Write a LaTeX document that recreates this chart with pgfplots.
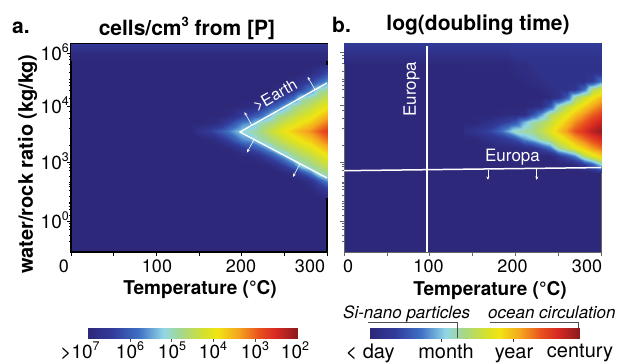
\documentclass[border=0pt]{standalone}
\usepackage{fontspec}
\setmainfont{TeX Gyre Heros}
\usepackage{pgfplots}
\usepackage{pgfplotstable}
\pgfplotsset{compat=1.18}
\usetikzlibrary{arrows.meta}
\definecolor{bgc}{RGB}{45,40,122}
\pgfplotsset{colormap={dmap}{rgb255(0pt)=(45,40,122) rgb255(6pt)=(50,60,155) rgb255(12pt)=(62,112,196) rgb255(18pt)=(145,215,230) rgb255(22pt)=(165,215,140) rgb255(28pt)=(215,225,40) rgb255(31pt)=(240,228,20) rgb255(36pt)=(245,165,30) rgb255(41pt)=(232,80,30) rgb255(45pt)=(215,40,35) rgb255(50pt)=(140,28,30)}}
\newcommand{\fs}[1]{\fontsize{#1}{#1}\selectfont}
\newcommand{\pw}[1]{10\raisebox{0.42em}{\fs{12.5}#1}}
\begin{document}
\pgfplotstableread[row sep=\\]{
T y z\\
140 0.26 0\\140 0.30 0\\140 0.34 0\\140 0.38 0\\140 0.42 0\\140 0.46 0\\140 0.50 0\\140 0.54 0\\140 0.58 0\\140 0.62 0\\140 0.66 0\\140 0.70 0\\140 0.74 0\\140 0.78 0\\140 0.82 0\\140 0.86 0\\140 0.90 0\\
150 0.26 0\\150 0.30 0\\150 0.34 0\\150 0.38 0\\150 0.42 0\\150 0.46 0\\150 0.50 0\\150 0.54 0\\150 0.58 0.3\\150 0.62 0\\150 0.66 0\\150 0.70 0\\150 0.74 0\\150 0.78 0\\150 0.82 0\\150 0.86 0\\150 0.90 0\\
160 0.26 0\\160 0.30 0\\160 0.34 0\\160 0.38 0\\160 0.42 0\\160 0.46 0\\160 0.50 0\\160 0.54 0.05\\160 0.58 0.5\\160 0.62 0.05\\160 0.66 0\\160 0.70 0\\160 0.74 0\\160 0.78 0\\160 0.82 0\\160 0.86 0\\160 0.90 0\\
170 0.26 0\\170 0.30 0\\170 0.34 0\\170 0.38 0\\170 0.42 0\\170 0.46 0\\170 0.50 0\\170 0.54 0.15\\170 0.58 0.8\\170 0.62 0.15\\170 0.66 0\\170 0.70 0\\170 0.74 0\\170 0.78 0\\170 0.82 0\\170 0.86 0\\170 0.90 0\\
180 0.26 0\\180 0.30 0\\180 0.34 0\\180 0.38 0\\180 0.42 0\\180 0.46 0\\180 0.50 0.05\\180 0.54 0.5\\180 0.58 1.1\\180 0.62 0.5\\180 0.66 0.05\\180 0.70 0\\180 0.74 0\\180 0.78 0\\180 0.82 0\\180 0.86 0\\180 0.90 0\\
190 0.26 0\\190 0.30 0\\190 0.34 0\\190 0.38 0\\190 0.42 0\\190 0.46 0\\190 0.50 0.2\\190 0.54 0.85\\190 0.58 1.45\\190 0.62 0.85\\190 0.66 0.2\\190 0.70 0\\190 0.74 0\\190 0.78 0\\190 0.82 0\\190 0.86 0\\190 0.90 0\\
200 0.26 0\\200 0.30 0\\200 0.34 0\\200 0.38 0\\200 0.42 0\\200 0.46 0.05\\200 0.50 0.55\\200 0.54 1.3\\200 0.58 1.8\\200 0.62 1.3\\200 0.66 0.55\\200 0.70 0.05\\200 0.74 0\\200 0.78 0\\200 0.82 0\\200 0.86 0\\200 0.90 0\\
210 0.26 0\\210 0.30 0\\210 0.34 0\\210 0.38 0\\210 0.42 0\\210 0.46 0.1\\210 0.50 0.75\\210 0.54 1.45\\210 0.58 2.0\\210 0.62 1.45\\210 0.66 0.75\\210 0.70 0.1\\210 0.74 0\\210 0.78 0\\210 0.82 0\\210 0.86 0\\210 0.90 0\\
220 0.26 0\\220 0.30 0\\220 0.34 0\\220 0.38 0\\220 0.42 0\\220 0.46 0.32\\220 0.50 1.04\\220 0.54 1.96\\220 0.58 2.2\\220 0.62 1.96\\220 0.66 1.04\\220 0.70 0.35\\220 0.74 0\\220 0.78 0\\220 0.82 0\\220 0.86 0\\220 0.90 0\\
230 0.26 0\\230 0.30 0\\230 0.34 0\\230 0.38 0\\230 0.42 0.05\\230 0.46 0.67\\230 0.50 1.45\\230 0.54 2.17\\230 0.58 2.5\\230 0.62 2.17\\230 0.66 1.45\\230 0.70 0.7\\230 0.74 0.1\\230 0.78 0\\230 0.82 0\\230 0.86 0\\230 0.90 0\\
240 0.26 0\\240 0.30 0\\240 0.34 0\\240 0.38 0\\240 0.42 0.3\\240 0.46 1.09\\240 0.50 2.04\\240 0.54 2.42\\240 0.58 2.8\\240 0.62 2.42\\240 0.66 2.04\\240 0.70 1.1\\240 0.74 0.35\\240 0.78 0.05\\240 0.82 0\\240 0.86 0\\240 0.90 0\\
250 0.26 0\\250 0.30 0\\250 0.34 0\\250 0.38 0.05\\250 0.42 0.66\\250 0.46 1.53\\250 0.50 2.26\\250 0.54 2.66\\250 0.58 3.05\\250 0.62 2.66\\250 0.66 2.26\\250 0.70 1.53\\250 0.74 0.7\\250 0.78 0.15\\250 0.82 0\\250 0.86 0\\250 0.90 0\\
260 0.26 0\\260 0.30 0\\260 0.34 0\\260 0.38 0.25\\260 0.42 1.14\\260 0.46 2.1\\260 0.50 2.5\\260 0.54 2.9\\260 0.58 3.3\\260 0.62 2.9\\260 0.66 2.5\\260 0.70 2.1\\260 0.74 1.14\\260 0.78 0.35\\260 0.82 0.05\\260 0.86 0\\260 0.90 0\\
270 0.26 0\\270 0.30 0\\270 0.34 0.05\\270 0.38 0.71\\270 0.42 1.92\\270 0.46 2.31\\270 0.50 2.71\\270 0.54 3.1\\270 0.58 3.5\\270 0.62 3.1\\270 0.66 2.71\\270 0.70 2.31\\270 0.74 1.92\\270 0.78 0.8\\270 0.82 0.3\\270 0.86 0\\270 0.90 0\\
280 0.26 0\\280 0.30 0.05\\280 0.34 0.3\\280 0.38 1.23\\280 0.42 2.14\\280 0.46 2.53\\280 0.50 2.92\\280 0.54 3.31\\280 0.58 3.7\\280 0.62 3.31\\280 0.66 2.92\\280 0.70 2.53\\280 0.74 2.14\\280 0.78 1.3\\280 0.82 0.6\\280 0.86 0.15\\280 0.90 0\\
290 0.26 0\\290 0.30 0.25\\290 0.34 0.8\\290 0.38 1.97\\290 0.42 2.38\\290 0.46 2.78\\290 0.50 3.19\\290 0.54 3.59\\290 0.58 4.0\\290 0.62 3.59\\290 0.66 3.19\\290 0.70 2.78\\290 0.74 2.38\\290 0.78 1.97\\290 0.82 1.0\\290 0.86 0.4\\290 0.90 0.1\\
300 0.26 0.1\\300 0.30 0.5\\300 0.34 1.35\\300 0.38 2.21\\300 0.42 2.63\\300 0.46 3.05\\300 0.50 3.46\\300 0.54 3.88\\300 0.58 4.3\\300 0.62 3.88\\300 0.66 3.46\\300 0.70 3.05\\300 0.74 2.63\\300 0.78 2.21\\300 0.82 1.4\\300 0.86 0.8\\300 0.90 0.3\\
}\tA
\pgfplotstableread[row sep=\\]{
T y z\\
140 0.38 0\\140 0.42 0\\140 0.46 0\\140 0.50 0\\140 0.54 0\\140 0.58 0.25\\140 0.62 0\\140 0.66 0\\140 0.70 0\\140 0.74 0\\140 0.78 0\\140 0.82 0\\140 0.86 0\\140 0.90 0.05\\140 0.94 0.2\\140 1.0 0.55\\
150 0.38 0\\150 0.42 0\\150 0.46 0\\150 0.50 0\\150 0.54 0\\150 0.58 0.35\\150 0.62 0\\150 0.66 0\\150 0.70 0\\150 0.74 0\\150 0.78 0\\150 0.82 0\\150 0.86 0\\150 0.90 0.05\\150 0.94 0.2\\150 1.0 0.55\\
160 0.38 0\\160 0.42 0\\160 0.46 0\\160 0.50 0\\160 0.54 0.15\\160 0.58 0.5\\160 0.62 0.15\\160 0.66 0\\160 0.70 0\\160 0.74 0\\160 0.78 0\\160 0.82 0\\160 0.86 0\\160 0.90 0.05\\160 0.94 0.2\\160 1.0 0.55\\
170 0.38 0\\170 0.42 0\\170 0.46 0\\170 0.50 0\\170 0.54 0.25\\170 0.58 0.7\\170 0.62 0.25\\170 0.66 0\\170 0.70 0\\170 0.74 0\\170 0.78 0\\170 0.82 0\\170 0.86 0\\170 0.90 0.05\\170 0.94 0.2\\170 1.0 0.55\\
180 0.38 0\\180 0.42 0\\180 0.46 0\\180 0.50 0.05\\180 0.54 0.4\\180 0.58 1.0\\180 0.62 0.45\\180 0.66 0.05\\180 0.70 0\\180 0.74 0\\180 0.78 0\\180 0.82 0\\180 0.86 0\\180 0.90 0.05\\180 0.94 0.2\\180 1.0 0.55\\
190 0.38 0\\190 0.42 0\\190 0.46 0\\190 0.50 0.1\\190 0.54 0.55\\190 0.58 1.5\\190 0.62 0.65\\190 0.66 0.1\\190 0.70 0\\190 0.74 0\\190 0.78 0\\190 0.82 0\\190 0.86 0\\190 0.90 0.05\\190 0.94 0.2\\190 1.0 0.55\\
200 0.38 0\\200 0.42 0\\200 0.46 0\\200 0.50 0.1\\200 0.54 0.8\\200 0.58 2.0\\200 0.62 0.9\\200 0.66 0.1\\200 0.70 0\\200 0.74 0\\200 0.78 0\\200 0.82 0\\200 0.86 0.1\\200 0.90 0.15\\200 0.94 0.35\\200 1.0 0.55\\
210 0.38 0\\210 0.42 0\\210 0.46 0\\210 0.50 0.15\\210 0.54 1.4\\210 0.58 2.1\\210 0.62 1.6\\210 0.66 0.2\\210 0.70 0\\210 0.74 0\\210 0.78 0\\210 0.82 0.1\\210 0.86 0.15\\210 0.90 0.15\\210 0.94 0.35\\210 1.0 0.55\\
220 0.38 0\\220 0.42 0\\220 0.46 0\\220 0.50 0.3\\220 0.54 1.7\\220 0.58 2.2\\220 0.62 2.04\\220 0.66 0.75\\220 0.70 0.05\\220 0.74 0\\220 0.78 0\\220 0.82 0.15\\220 0.86 0.2\\220 0.90 0.3\\220 0.94 0.35\\220 1.0 0.55\\
230 0.38 0\\230 0.42 0\\230 0.46 0\\230 0.50 0.7\\230 0.54 2.16\\230 0.58 2.5\\230 0.62 2.29\\230 0.66 1.4\\230 0.70 0.2\\230 0.74 0\\230 0.78 0.1\\230 0.82 0.2\\230 0.86 0.3\\230 0.90 0.3\\230 0.94 0.35\\230 1.0 0.55\\
240 0.38 0\\240 0.42 0\\240 0.46 0\\240 0.50 1.16\\240 0.54 2.49\\240 0.58 2.9\\240 0.62 2.63\\240 0.66 2.27\\240 0.70 0.87\\240 0.74 0.1\\240 0.78 0.2\\240 0.82 0.3\\240 0.86 0.3\\240 0.90 0.3\\240 0.94 0.35\\240 1.0 0.55\\
250 0.38 0\\250 0.42 0\\250 0.46 0.42\\250 0.50 2.12\\250 0.54 2.85\\250 0.58 3.3\\250 0.62 3.0\\250 0.66 2.63\\250 0.70 1.96\\250 0.74 0.3\\250 0.78 0.3\\250 0.82 0.3\\250 0.86 0.3\\250 0.90 0.3\\250 0.94 0.35\\250 1.0 0.55\\
260 0.38 0\\260 0.42 0\\260 0.46 0.87\\260 0.50 2.57\\260 0.54 3.22\\260 0.58 3.7\\260 0.62 3.38\\260 0.66 3.0\\260 0.70 2.49\\260 0.74 0.96\\260 0.78 0.3\\260 0.82 0.3\\260 0.86 0.3\\260 0.90 0.3\\260 0.94 0.35\\260 1.0 0.55\\
270 0.38 0\\270 0.42 0.12\\270 0.46 1.33\\270 0.50 2.97\\270 0.54 3.6\\270 0.58 4.1\\270 0.62 3.76\\270 0.66 3.37\\270 0.70 2.9\\270 0.74 2.15\\270 0.78 0.42\\270 0.82 0.3\\270 0.86 0.3\\270 0.90 0.3\\270 0.94 0.35\\270 1.0 0.55\\
280 0.38 0\\280 0.42 0.59\\280 0.46 2.42\\280 0.50 3.3\\280 0.54 3.9\\280 0.58 4.4\\280 0.62 4.06\\280 0.66 3.69\\280 0.70 3.24\\280 0.74 2.67\\280 0.78 1.09\\280 0.82 0.3\\280 0.86 0.3\\280 0.90 0.3\\280 0.94 0.35\\280 1.0 0.55\\
290 0.38 0\\290 0.42 1.04\\290 0.46 2.87\\290 0.50 3.63\\290 0.54 4.21\\290 0.58 4.7\\290 0.62 4.36\\290 0.66 3.99\\290 0.70 3.57\\290 0.74 3.06\\290 0.78 2.3\\290 0.82 0.54\\290 0.86 0.3\\290 0.90 0.3\\290 0.94 0.35\\290 1.0 0.55\\
300 0.38 0.3\\300 0.42 1.9\\300 0.46 3.23\\300 0.50 3.91\\300 0.54 4.47\\300 0.58 4.95\\300 0.62 4.62\\300 0.66 4.26\\300 0.70 3.86\\300 0.74 3.39\\300 0.78 2.8\\300 0.82 1.2\\300 0.86 0.3\\300 0.90 0.3\\300 0.94 0.35\\300 1.0 0.55\\
}\tB
\begin{tikzpicture}
\path[use as bounding box] (0,0) rectangle (620pt,-362pt);
\pgfplotsset{panel/.style={anchor=south west, width=256pt, height=208pt, scale only axis,
  xmin=0, xmax=300, ymin=0, ymax=1, axis background/.style={fill=bgc},
  colormap name=dmap, point meta min=0, point meta max=5,
  xtick={0,50,...,300}, xticklabels={}, yticklabels={},
  ytick={0.146,0.430,0.702,0.954},
  minor ytick={0.051,0.080,0.108,0.125,0.137,0.175,0.203,0.220,0.232,0.241,0.270,0.298,0.315,0.327,0.335,0.364,0.392,0.409,0.421,0.512,0.594,0.642,0.676,0.740,0.778,0.800,0.816,0.828,0.866,0.904,0.926,0.942},
  tick align=outside, tick pos=left, major tick length=4pt, minor tick length=2.2pt}}
% ---------- panel a
\begin{axis}[panel, at={(71pt,-252pt)}, axis line style={black, line width=1.6pt}, tick style={black, line width=0.6pt}]
\addplot[surf, shader=interp, mesh/ordering=y varies, mesh/rows=17, mesh/cols=17, point meta=\thisrow{z}] table[x=T, y=y] {\tA};
\addplot[surf, shader=interp, mesh/rows=3, mesh/cols=2, point meta=explicit] coordinates {(0,0.92)[0] (300,0.92)[0] (0,0.96)[0.15] (300,0.96)[0.15] (0,1)[0.45] (300,1)[0.45]};
\draw[white, line width=1.3pt] (axis cs:300,0.8125) -- (axis cs:198,0.577) -- (axis cs:300,0.356);
\begin{scope}[white, line width=0.6pt, -{Stealth[length=3.5pt,width=3pt]}]
\draw (axis cs:212,0.609) -- (axis cs:203.3,0.672);
\draw (axis cs:286,0.780) -- (axis cs:277.3,0.842);
\draw (axis cs:214.5,0.541) -- (axis cs:206.2,0.478);
\draw (axis cs:268.4,0.4245) -- (axis cs:260.1,0.361);
\end{scope}
\node[white, rotate=29.7, font=\fs{16}, inner sep=0] at (axis cs:239.3,0.754) {>Earth};
\end{axis}
% ---------- panel b
\begin{axis}[panel, at={(344pt,-252pt)}, width=257pt, height=209pt, axis line style={black!60, line width=0.9pt}, tick style={black!60, line width=0.6pt}]
\addplot[surf, shader=interp, mesh/ordering=y varies, mesh/rows=16, mesh/cols=17, point meta=\thisrow{z}] table[x=T, y=y] {\tB};
\addplot[surf, shader=interp, mesh/rows=3, mesh/cols=2, point meta=explicit] coordinates {(0,0.90)[0.05] (140,0.90)[0.05] (0,0.94)[0.2] (140,0.94)[0.2] (0,1)[0.55] (140,1)[0.55]};
\draw[white, line width=1.5pt] (axis cs:97,0.985) -- (axis cs:97,0);
\draw[white, line width=1.5pt] (axis cs:0,0.389) -- (axis cs:300,0.404);
\begin{scope}[white, line width=0.6pt, -{Stealth[length=3.5pt,width=3pt]}]
\draw (axis cs:168,0.393) -- (axis cs:168,0.345);
\draw (axis cs:225,0.396) -- (axis cs:225,0.345);
\end{scope}
\node[white, font=\fs{17}, inner sep=0] at (axis cs:196.7,0.454) {Europa};
\node[white, font=\fs{17}, inner sep=0, rotate=90] at (axis cs:78.8,0.779) {Europa};
\end{axis}
% ---------- colour bars
\begin{axis}[at={(88pt,-338pt)}, anchor=south west, width=209pt, height=10pt, scale only axis,
  xmin=0, xmax=5, ymin=0, ymax=1, colormap name=dmap, point meta min=0, point meta max=5,
  xtick={1,2,3,4}, xticklabels={}, ytick=\empty, tick align=outside, tick pos=left,
  major tick length=3.5pt, tick style={black!70, line width=0.6pt}, axis line style={black!65, line width=0.8pt}]
\addplot[surf, shader=interp, mesh/rows=2, mesh/cols=11, point meta=x] coordinates {(0,0)(0.5,0)(1,0)(1.5,0)(2,0)(2.5,0)(3,0)(3.5,0)(4,0)(4.5,0)(5,0)(0,1)(0.5,1)(1,1)(1.5,1)(2,1)(2.5,1)(3,1)(3.5,1)(4,1)(4.5,1)(5,1)};
\end{axis}
\begin{axis}[at={(370pt,-338pt)}, anchor=south west, width=209pt, height=10pt, scale only axis,
  xmin=0, xmax=5, ymin=0, ymax=1, colormap name=dmap, point meta min=0, point meta max=5,
  xtick={1.7,3.42}, xticklabels={}, ytick=\empty, tick align=outside, tick pos=left,
  major tick length=4pt, tick style={black!80, line width=0.8pt}, axis line style={black!65, line width=0.8pt}]
\addplot[surf, shader=interp, mesh/rows=2, mesh/cols=11, point meta=x] coordinates {(0,0)(0.5,0)(1,0)(1.5,0)(2,0)(2.5,0)(3,0)(3.5,0)(4,0)(4.5,0)(5,0)(0,1)(0.5,1)(1,1)(1.5,1)(2,1)(2.5,1)(3,1)(3.5,1)(4,1)(4.5,1)(5,1)};
\end{axis}
\draw[black!70, line width=0.7pt] (368pt,-322pt) -- (457pt,-322pt) -- (457pt,-338pt);
\draw[black!70, line width=0.7pt] (490pt,-322pt) -- (578pt,-322pt) -- (578pt,-328pt);
% ---------- texts
\begin{scope}[every node/.style={inner sep=0}]
\node[anchor=base west, font=\bfseries\fs{21}] at (12pt,-33pt) {a.};
\node[anchor=base, font=\bfseries\fs{21}] at (187pt,-35pt) {cells/cm\raisebox{0.42em}{\fs{13}3} from [P]};
\node[anchor=base west, font=\bfseries\fs{21}] at (332pt,-32pt) {b.};
\node[anchor=base, font=\bfseries\fs{21}] at (478pt,-30pt) {log(doubling time)};
\node[rotate=90, font=\bfseries\fs{20}] at (27.5pt,-164pt) {water/rock ratio (kg/kg)};
\node[anchor=base east, font=\fs{19}] at (69pt,-60pt) {\pw{6}};
\node[anchor=base east, font=\fs{19}] at (69pt,-113pt) {\pw{4}};
\node[anchor=base east, font=\fs{19}] at (69pt,-169pt) {\pw{3}};
\node[anchor=base east, font=\fs{19}] at (69pt,-228pt) {\pw{0}};
\foreach \x/\t in {64/0,157/100,241/200,310/300,348/0,428.5/100,512.5/200,587/300}
  \node[anchor=base, font=\fs{18}] at (\x pt,-272pt) {\t};
\node[anchor=base, font=\bfseries\fs{19}] at (200pt,-294.5pt) {Temperature (°C)};
\node[anchor=base, font=\bfseries\fs{19}] at (490pt,-295pt) {Temperature (°C)};
\node[anchor=base, font=\fs{19}] at (80pt,-358pt) {>\pw{7}};
\node[anchor=base, font=\fs{19}] at (130pt,-358pt) {\pw{6}};
\node[anchor=base, font=\fs{19}] at (172pt,-358pt) {\pw{5}};
\node[anchor=base, font=\fs{19}] at (213pt,-358pt) {\pw{4}};
\node[anchor=base, font=\fs{19}] at (255pt,-358pt) {\pw{3}};
\node[anchor=base, font=\fs{19}] at (295pt,-358pt) {\pw{2}};
\node[anchor=base, font=\fs{20}] at (370pt,-358pt) {< day};
\node[anchor=base, font=\fs{20}] at (446pt,-358pt) {month};
\node[anchor=base, font=\fs{20}] at (514pt,-358pt) {year};
\node[anchor=base, font=\fs{20}] at (580pt,-357pt) {century};
\node[anchor=base west, font=\itshape\fs{17}] at (343pt,-318pt) {Si-nano particles};
\node[anchor=base west, font=\itshape\fs{17}] at (488pt,-318pt) {ocean circulation};
\end{scope}
\end{tikzpicture}
\end{document}
